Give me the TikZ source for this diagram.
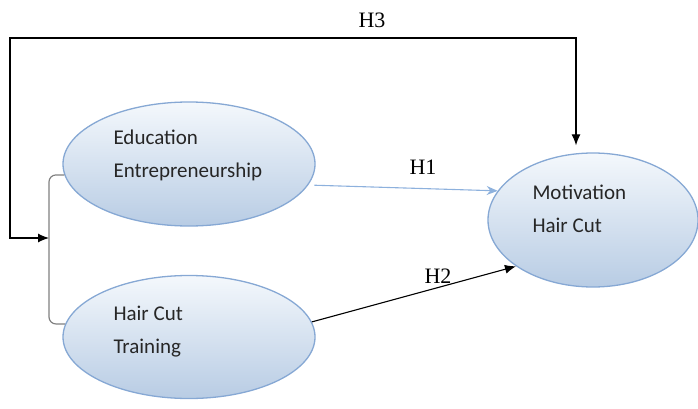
\documentclass[tikz,border=0pt]{standalone}
\usepackage{fontspec}
\setmainfont{Liberation Serif}
\newfontfamily\calibri{Carlito}
\usepackage{tikz}
\usetikzlibrary{arrows.meta, positioning, shapes.geometric, calc}

\definecolor{ovalEdge}{HTML}{86A8D4}
\definecolor{ovalTop}{HTML}{F4F8FC}
\definecolor{ovalBottom}{HTML}{B8CCE4}
\definecolor{pathBlue}{HTML}{8DB1DD}

\tikzset{
  oval/.style={ellipse, draw=ovalEdge, line width=1.3pt,
    top color=ovalTop, bottom color=ovalBottom, inner sep=0pt},
  ovaltext/.style={anchor=west, align=left, font=\calibri\fontsize{21}{33}\selectfont,
    text=black!85},
  hyp/.style={font=\fontsize{22}{24}\selectfont},
  link/.style={line width=1.1pt, -{Latex[length=11pt, width=9pt]}},
}

\begin{document}
\begin{tikzpicture}[x=1pt, y=-1pt]
  \useasboundingbox (0,0) rectangle (698,409);

  % Constructs
  \node[oval, minimum width=252, minimum height=124] (edu) at (189,164) {};
  \node[oval, minimum width=252, minimum height=123] (train) at (189,337) {};
  \node[oval, minimum width=210, minimum height=134] (mot) at (593,220) {};

  \node[ovaltext] (edutxt) at (110,155) {Education\\Entrepreneurship};
  \node[ovaltext] (traintxt) at (110,332) {Hair Cut\\Training};
  \node[ovaltext] (mottxt) at (529,209) {Motivation\\Hair Cut};

  % Joint effect bracket
  \coordinate (join) at (49,238);
  \draw[gray, line width=1.2pt, rounded corners=7pt]
    (edu.185) -| (join) |- (train.174);

  % H1 and H2
  \draw[link, pathBlue, -{Stealth[length=11pt, width=9pt]}, shorten <=6pt]
    (edu.-10) -- (mot.163);
  \node[hyp] (h1) at (423,167) {H1};

  \draw[link, black] (train.7) -- (mot.211);
  \node[hyp] (h2) at (438,276) {H2};

  % H3 around the top
  \coordinate (h3corner) at (576,38);
  \draw[line width=1.1pt, {Latex[length=11pt, width=9pt]}-{Latex[length=11pt, width=9pt]},
        shorten >=7pt]
    (join) -- ++(-39,0) |- (h3corner) -- (h3corner |- mot.north);
  \node[hyp] (h3) at (372,20) {H3};

\end{tikzpicture}
\end{document}
